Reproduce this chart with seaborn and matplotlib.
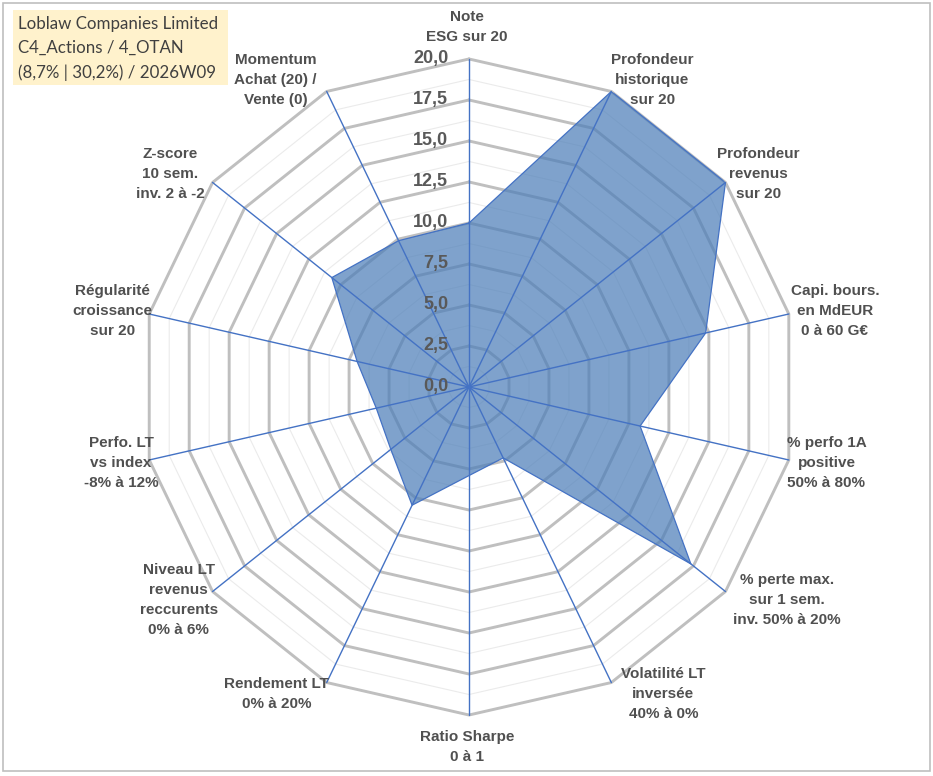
import numpy as np
import pandas as pd
import seaborn as sns
import matplotlib.pyplot as plt
from matplotlib.patches import Rectangle

# axes of the radar, clockwise from the top
labels = [
    "Note\nESG sur 20",
    "Profondeur\nhistorique\nsur 20",
    "Profondeur\nrevenus\nsur 20",
    "Capi. bours.\nen MdEUR\n0 à 60 G€",
    "% perfo 1A\npositive\n50% à 80%",
    "% perte max.\nsur 1 sem.\ninv. 50% à 20%",
    "Volatilité LT\ninversée\n40% à 0%",
    "Ratio Sharpe\n0 à 1",
    "Rendement LT\n0% à 20%",
    "Niveau LT\nrevenus\nreccurents\n0% à 6%",
    "Perfo. LT\nvs index\n-8% à 12%",
    "Régularité\ncroissance\nsur 20",
    "Z-score\n10 sem.\ninv. 2 à -2",
    "Momentum\nAchat (20) /\nVente (0)",
]
scores = [10.0, 20.0, 20.0, 14.8, 10.7, 17.3, 4.8, 5.4, 8.0, 6.1, 5.8, 7.0, 10.7, 9.9]
rticks = [0.0, 2.5, 5.0, 7.5, 10.0, 12.5, 15.0, 17.5, 20.0]
title_lines = ["Loblaw Companies Limited", "C4_Actions / 4_OTAN", "(8,7% | 30,2%) / 2026W09"]

# small horizontal nudges of the axis labels (pixels)
label_nudge = [-2, -3, -11, -1, -5, 5, 7, -2, -2, 1, 5, -1, -12, -14]

n = len(labels)
theta = np.linspace(0, 2 * np.pi, n, endpoint=False)
df = pd.DataFrame({"theta": np.append(theta, theta[0] + 2 * np.pi),
                   "score": scores + scores[:1]})

sns.set_theme(style="white")
plt.rcParams["font.family"] = ["Liberation Sans", "DejaVu Sans"]

fig = plt.figure(figsize=(9.33, 7.76), dpi=100)
fig.patch.set_facecolor("white")
ax = fig.add_axes([0.1511, 0.0786, 0.7032, 0.8454], projection="polar")
ax.set_theta_zero_location("N")
ax.set_theta_direction(-1)
ax.set_ylim(0, 20)
ax.grid(False)
ax.set_xticks([])
ax.set_yticks([])
ax.spines["polar"].set_visible(False)
ax.patch.set_alpha(0)

ring = np.append(theta, theta[0])
# minor rings
for r in np.arange(1.25, 20, 2.5):
    ax.plot(ring, [r] * len(ring), color="#EBEBEB", lw=0.8, zorder=1, clip_on=False)
# major rings
for r in rticks[1:]:
    ax.plot(ring, [r] * len(ring), color="#BFBFBF", lw=2.1, zorder=1.2, clip_on=False)

# series
ax.fill(df["theta"], df["score"], color="#4E7FB9", alpha=0.72, lw=0, zorder=2)
sns.lineplot(data=df, x="theta", y="score", sort=False, estimator=None,
             color="#4472C4", lw=0.9, ax=ax, zorder=3)
ax.set_xlabel("")
ax.set_ylabel("")

# spokes
for t in theta:
    ax.plot([t, t], [0, 20], color="#4472C4", lw=1.0, zorder=3, clip_on=False)

# radial tick labels
for v in rticks:
    ax.annotate(f"{v:.1f}".replace(".", ","), xy=(0, v), xytext=(-15, 0),
                textcoords="offset points", ha="right", va="center",
                fontsize=13, fontweight="bold", color="#595959", zorder=4)

# axis labels
px = 0.72  # points per pixel at 100 dpi
for t, lab, nudge in zip(theta, labels, label_nudge):
    s, c = np.sin(t), np.cos(t)
    if abs(s) < 1e-6:
        ha = "center"
        va = "bottom" if c > 0 else "top"
        dx, dy = 0, 11 * np.sign(c)
    else:
        ha = "left" if s > 0 else "right"
        va = "center"
        dx = 2 if s > 0 else 3
        dy = c * 9.5
    ax.annotate(lab, xy=(t, 20), xytext=(dx + nudge * px, dy), textcoords="offset points",
                ha=ha, va=va, ma="center", fontsize=11, fontweight="bold",
                color="#505050", linespacing=1.55, annotation_clip=False)

# title box
fig.patches.append(Rectangle((13 / 933, 1 - 85 / 776), 215 / 933, 75 / 776,
                             transform=fig.transFigure, facecolor="#FFF2CC",
                             edgecolor="none", zorder=0))
fig.text(18 / 933, 1 - 16 / 776, "\n".join(title_lines), ha="left", va="top",
         fontsize=12.2, color="#404040", family=["Lato", "DejaVu Sans"],
         linespacing=1.62)

# chart border
fig.patches.append(Rectangle((0.003, 0.006), 0.994, 0.99, transform=fig.transFigure,
                             facecolor="none", edgecolor="#BFBFBF", lw=1.2))

fig.savefig("out.png", dpi=100)
plt.close(fig)
